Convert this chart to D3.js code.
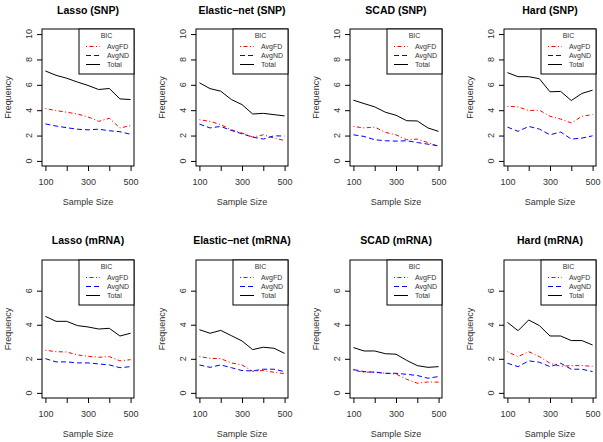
<!DOCTYPE html>
<html>
<head>
<meta charset="utf-8">
<script src="https://cdn.jsdelivr.net/npm/d3@7"></script>
<style>
  html, body { margin: 0; padding: 0; background: #fff; }
  svg { display: block; font-family: "Liberation Sans", Arial, Helvetica, sans-serif; }
</style>
</head>
<body>
<svg id="chart" width="603" height="442"></svg>
<script>
// ---------------- data ----------------
const sampleSizes = [100, 150, 200, 250, 300, 350, 400, 450, 500];
const xTicks = [100, 200, 300, 400, 500];
const xTickLabels = [100, 300, 500];
const yTicksSNP = [0, 2, 4, 6, 8, 10];
const yTicksMRNA = [0, 2, 4, 6];
const seriesNames = ["AvgFD", "AvgND", "Total"];
const legendTitle = "BIC";
const xLabel = "Sample Size";
const yLabel = "Frequency";

const titlesSNP = ["Lasso (SNP)", "Elastic\u2212net (SNP)", "SCAD (SNP)", "Hard (SNP)"];
const titlesMRNA = ["Lasso (mRNA)", "Elastic\u2212net (mRNA)", "SCAD (mRNA)", "Hard (mRNA)"];

// SNP
const lassoSNP_FD    = [4.13, 3.97, 3.84, 3.70, 3.47, 3.12, 3.36, 2.60, 2.78];
const lassoSNP_ND    = [2.92, 2.75, 2.62, 2.50, 2.45, 2.50, 2.38, 2.30, 2.10];
const lassoSNP_Total = [7.09, 6.75, 6.52, 6.22, 5.95, 5.63, 5.71, 4.89, 4.84];

const enetSNP_FD     = [3.25, 3.12, 2.86, 2.46, 2.20, 1.88, 2.06, 1.80, 1.61];
const enetSNP_ND     = [2.90, 2.60, 2.72, 2.40, 2.14, 1.88, 1.72, 1.98, 1.96];
const enetSNP_Total  = [6.16, 5.70, 5.50, 4.84, 4.44, 3.70, 3.75, 3.65, 3.55];

const scadSNP_FD     = [2.72, 2.60, 2.67, 2.25, 2.06, 1.67, 1.72, 1.45, 1.14];
const scadSNP_ND     = [2.06, 1.93, 1.67, 1.59, 1.56, 1.59, 1.45, 1.32, 1.19];
const scadSNP_Total  = [4.79, 4.52, 4.26, 3.84, 3.60, 3.17, 3.15, 2.60, 2.33];

const hardSNP_FD     = [4.31, 4.26, 3.97, 4.00, 3.52, 3.30, 2.99, 3.52, 3.65];
const hardSNP_ND     = [2.67, 2.33, 2.72, 2.51, 2.06, 2.28, 1.72, 1.80, 1.98];
const hardSNP_Total  = [6.96, 6.64, 6.64, 6.48, 5.45, 5.48, 4.76, 5.32, 5.58];

// mRNA
const lassoMRNA_FD    = [2.50, 2.42, 2.40, 2.23, 2.15, 2.09, 2.13, 1.88, 1.95];
const lassoMRNA_ND    = [2.01, 1.82, 1.82, 1.76, 1.76, 1.70, 1.64, 1.48, 1.54];
const lassoMRNA_Total = [4.49, 4.20, 4.20, 3.95, 3.87, 3.75, 3.79, 3.34, 3.50];

const enetMRNA_FD     = [2.13, 2.03, 2.01, 1.76, 1.64, 1.27, 1.31, 1.21, 1.13];
const enetMRNA_ND     = [1.64, 1.50, 1.64, 1.48, 1.31, 1.29, 1.39, 1.39, 1.25];
const enetMRNA_Total  = [3.71, 3.50, 3.67, 3.36, 3.05, 2.54, 2.68, 2.62, 2.32];

const scadMRNA_FD     = [1.33, 1.21, 1.23, 1.15, 1.11, 0.80, 0.57, 0.64, 0.63];
const scadMRNA_ND     = [1.37, 1.25, 1.21, 1.15, 1.15, 1.09, 1.02, 0.86, 0.96];
const scadMRNA_Total  = [2.66, 2.46, 2.46, 2.30, 2.27, 1.91, 1.60, 1.50, 1.54];

const hardMRNA_FD     = [2.42, 2.13, 2.42, 2.13, 1.74, 1.56, 1.60, 1.60, 1.56];
const hardMRNA_ND     = [1.74, 1.54, 1.88, 1.80, 1.54, 1.74, 1.39, 1.39, 1.25];
const hardMRNA_Total  = [4.14, 3.65, 4.28, 3.95, 3.34, 3.34, 3.07, 3.07, 2.81];

// ---------------- layout / styles ----------------
const textColor = "#333";
const seriesStyle = [
  { color: "#ff0000", dash: "1,2.5,4,2.5" },
  { color: "#0000ff", dash: "5,3" },
  { color: "#000000", dash: null }
];

const rows = [
  { top: 29, bottom: 166, ymax: 10, yticks: yTicksSNP, titles: titlesSNP,
    data: [[lassoSNP_FD, lassoSNP_ND, lassoSNP_Total],
           [enetSNP_FD, enetSNP_ND, enetSNP_Total],
           [scadSNP_FD, scadSNP_ND, scadSNP_Total],
           [hardSNP_FD, hardSNP_ND, hardSNP_Total]],
    titleY: 13.5 },
  { top: 260, bottom: 398, ymax: 7.5, yticks: yTicksMRNA, titles: titlesMRNA,
    data: [[lassoMRNA_FD, lassoMRNA_ND, lassoMRNA_Total],
           [enetMRNA_FD, enetMRNA_ND, enetMRNA_Total],
           [scadMRNA_FD, scadMRNA_ND, scadMRNA_Total],
           [hardMRNA_FD, hardMRNA_ND, hardMRNA_Total]],
    titleY: 244 }
];

const panelLeft0 = 42, panelStep = 154, panelW = 92;

const svg = d3.select("#chart");

rows.forEach(row => {
  row.data.forEach((panel, pi) => {
    const left = panelLeft0 + pi * panelStep;
    const right = left + panelW;
    const x = d3.scaleLinear().domain([100 - 16, 500 + 16]).range([left, right]);
    const ext = row.ymax * 0.04;
    const y = d3.scaleLinear().domain([-ext, row.ymax + ext]).range([row.bottom, row.top]);
    const g = svg.append("g");

    // title
    g.append("text")
      .attr("x", (left + right) / 2).attr("y", row.titleY)
      .attr("text-anchor", "middle")
      .attr("font-weight", "bold").attr("font-size", 10.5)
      .attr("fill", "#000")
      .text(row.titles[pi]);

    // lines
    const line = d3.line().x((d, i) => x(sampleSizes[i])).y(d => y(d));
    panel.forEach((vals, si) => {
      g.append("path")
        .attr("d", line(vals))
        .attr("fill", "none")
        .attr("stroke", seriesStyle[si].color)
        .attr("stroke-width", 1)
        .attr("stroke-dasharray", seriesStyle[si].dash);
    });

    // x axis
    const xAxis = d3.axisBottom(x).tickValues(xTicks).tickSize(5).tickPadding(7.5)
      .tickFormat(d => xTickLabels.includes(d) ? String(d) : "");
    const xa = g.append("g").attr("transform", `translate(0,${row.bottom})`).call(xAxis);
    xa.select(".domain").remove();
    xa.selectAll("line").attr("stroke", "#000");
    xa.selectAll("text").attr("font-size", 9).attr("fill", textColor)
      .attr("font-family", "'Liberation Sans', Arial, sans-serif");

    // y axis
    const yAxis = d3.axisLeft(y).tickValues(row.yticks).tickSize(5).tickFormat("");
    const ya = g.append("g").attr("transform", `translate(${left},0)`).call(yAxis);
    ya.select(".domain").remove();
    ya.selectAll("line").attr("stroke", "#000");
    g.selectAll(".ylab").data(row.yticks).enter().append("text")
      .attr("class", "ylab")
      .attr("transform", d => `translate(${left - 13},${y(d)}) rotate(-90)`)
      .attr("text-anchor", "middle").attr("dy", "0.35em")
      .attr("font-size", 9).attr("fill", textColor)
      .text(d => d);

    // axis labels
    g.append("text")
      .attr("x", (left + right) / 2).attr("y", row.bottom + 39)
      .attr("text-anchor", "middle").attr("font-size", 9).attr("fill", textColor)
      .text(xLabel);
    g.append("text")
      .attr("transform", `translate(${left - 34},${(row.top + row.bottom) / 2}) rotate(-90)`)
      .attr("text-anchor", "middle").attr("dy", "0.35em")
      .attr("font-size", 9).attr("fill", textColor)
      .text(yLabel);

    // box
    g.append("rect")
      .attr("x", left).attr("y", row.top)
      .attr("width", panelW).attr("height", row.bottom - row.top)
      .attr("fill", "none").attr("stroke", "#000").attr("stroke-width", 1);

    // legend
    const lgW = 55, lgH = 45;
    const lg = g.append("g").attr("transform", `translate(${right - lgW},${row.top})`);
    lg.append("rect").attr("x", 0).attr("y", 0).attr("width", lgW).attr("height", lgH)
      .attr("fill", "#fff").attr("stroke", "#000").attr("stroke-width", 1);
    lg.append("text").attr("x", lgW / 2).attr("y", 6.5).attr("dy", "0.35em")
      .attr("text-anchor", "middle").attr("font-size", 7).attr("fill", textColor)
      .text(legendTitle);
    const entryY = [17.5, 26.5, 35.5];
    seriesNames.forEach((name, si) => {
      lg.append("line")
        .attr("x1", 7).attr("x2", 21).attr("y1", entryY[si]).attr("y2", entryY[si])
        .attr("stroke", seriesStyle[si].color).attr("stroke-width", 1)
        .attr("stroke-dasharray", seriesStyle[si].dash);
      lg.append("text").attr("x", 28).attr("y", entryY[si]).attr("dy", "0.35em")
        .attr("font-size", 7).attr("fill", textColor)
        .text(name);
    });
  });
});
</script>
</body>
</html>
